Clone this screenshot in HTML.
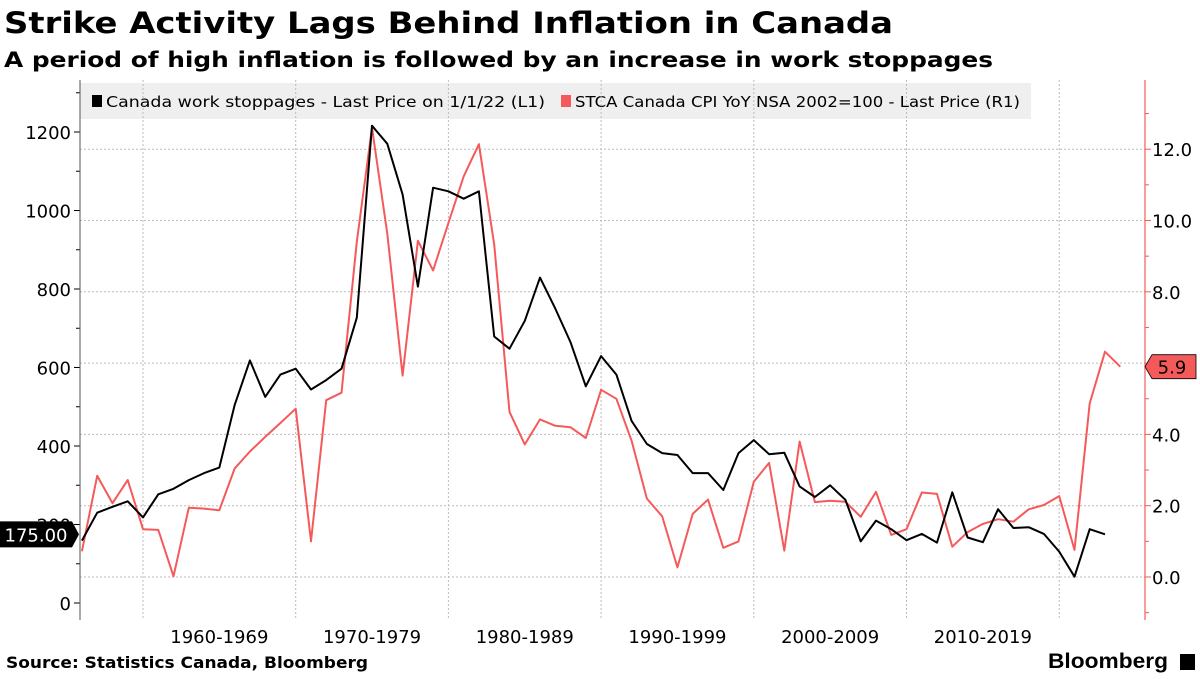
<!DOCTYPE html>
<html><head><meta charset="utf-8"><style>
body{margin:0;background:#fff;width:1200px;height:675px;overflow:hidden;font-family:"DejaVu Sans",sans-serif}
</style></head><body>
<svg id="chart" width="1200" height="675" xmlns="http://www.w3.org/2000/svg" font-family="DejaVu Sans, sans-serif">
<text x="4" y="33" font-size="29" font-weight="bold" fill="#000" textLength="889" lengthAdjust="spacingAndGlyphs">Strike Activity Lags Behind Inflation in Canada</text>
<text x="4" y="67" font-size="21" font-weight="bold" fill="#000" textLength="989" lengthAdjust="spacingAndGlyphs">A period of high inflation is followed by an increase in work stoppages</text>
<rect x="80" y="83" width="951" height="36" fill="#efefef"/>
<rect x="92" y="95" width="10" height="12" fill="#000"/>
<text x="106" y="107" font-size="15" fill="#000" textLength="439" lengthAdjust="spacingAndGlyphs">Canada work stoppages - Last Price on 1/1/22 (L1)</text>
<rect x="561" y="95" width="10" height="12" fill="#f55a5a"/>
<text x="575" y="107" font-size="15" fill="#000" textLength="445" lengthAdjust="spacingAndGlyphs">STCA Canada CPI YoY NSA 2002=100 - Last Price (R1)</text>
<g id="grid"></g><g id="axes"></g><g id="series"></g>
<text x="6" y="668" font-size="16" font-weight="bold" fill="#000" textLength="362" lengthAdjust="spacingAndGlyphs">Source: Statistics Canada, Bloomberg</text>
<text x="1048" y="668" font-size="21" font-weight="bold" fill="#000" font-family="Liberation Sans, sans-serif" textLength="120" lengthAdjust="spacingAndGlyphs">Bloomberg</text>
<rect x="1180" y="654" width="15" height="16" fill="#000"/>
</svg>
<script>
const stoppages = [159,230,245,259,218,277,291,313,331,345,504,618,525,582,597,544,568,597,727,1216,1170,1041,806,1058,1049,1030,1049,679,648,719,829,750,664,552,629,582,464,405,382,377,331,331,288,382,415,379,383,297,270,300,263,157,210,188,160,176,154,282,167,155,239,191,193,176,131,67,188,175];
const cpi = [0.72,2.84,2.07,2.72,1.34,1.32,0.02,1.94,1.92,1.87,3.04,3.52,3.93,4.32,4.72,1.0,4.96,5.17,9.4,12.6,9.63,5.65,9.43,8.6,9.93,11.24,12.14,9.33,4.63,3.72,4.42,4.24,4.2,3.9,5.25,5.0,3.82,2.2,1.7,0.27,1.77,2.17,0.82,1.0,2.67,3.2,0.74,3.8,2.1,2.14,2.11,1.69,2.39,1.18,1.34,2.37,2.33,0.85,1.26,1.49,1.62,1.55,1.9,2.02,2.27,0.76,4.87,6.32,5.9];
const startYear = 1956;
const leftTicks = [0,200,400,600,800,1000,1200];
const rightTicks = [0,2,4,6,8,10,12];
const decadeLabels = ["1960-1969","1970-1979","1980-1989","1990-1999","2000-2009","2010-2019"];
const decadeStarts = [1960,1970,1980,1990,2000,2010,2020];

const NS="http://www.w3.org/2000/svg";
const X0=80, X1=1145, Ytop=80, Ybot=620;
const xs = yr => 143 + (yr-1960)*15.27;
const yL = v => 603 - v*0.3925;
const yR = v => 577 - v*35.65;
function mk(tag, attrs, parent){const e=document.createElementNS(NS,tag);for(const k in attrs)e.setAttribute(k,attrs[k]);document.getElementById(parent).appendChild(e);return e;}

rightTicks.forEach(v=>{
  const l=mk('line',{x1:X0,x2:X1,y1:yR(v),y2:yR(v),stroke:'#bbb','stroke-dasharray':'2,2','stroke-width':1},'grid');
  
  
  const t=mk('text',{x:1152,y:yR(v)+7,'font-size':18,fill:'#000'},'axes');t.textContent=v.toFixed(1);
  
  
});
for(let v=-1;v<=13;v++){const tk=mk('line',{x1:X1,x2:X1+(v%2===0?6:4),y1:yR(v),y2:yR(v),stroke:'#f55a5a','stroke-width':1},'axes');
  
  }
decadeStarts.forEach(yr=>{
  const l=mk('line',{x1:xs(yr),x2:xs(yr),y1:Ytop,y2:Ybot,stroke:'#bbb','stroke-dasharray':'2,2','stroke-width':1},'grid');
  
  
});
decadeLabels.forEach((lab,i)=>{
  const t=mk('text',{x:(xs(decadeStarts[i])+xs(decadeStarts[i+1]))/2,y:643,'font-size':18,'text-anchor':'middle',fill:'#000'},'axes');t.textContent=lab;
  
  
});
leftTicks.forEach(v=>{
  const t=mk('text',{x:71,y:yL(v)+7,'font-size':18,'text-anchor':'end',fill:'#000'},'axes');t.textContent=v;
  
  
});
for(let v=0;v<=1300;v+=100){const tk=mk('line',{x1:X0,x2:X0-(v%200===0?6:4),y1:yL(v),y2:yL(v),stroke:'#000','stroke-width':1},'axes');
  
  }
const la=mk('line',{x1:X0,x2:X0,y1:Ytop,y2:Ybot,stroke:'#555','stroke-width':1},'axes');


const ra=mk('line',{x1:X1,x2:X1,y1:Ytop,y2:Ybot,stroke:'#f55a5a','stroke-width':1.2},'axes');



const cp=cpi.map((v,i)=>xs(startYear+i).toFixed(1)+','+yR(v).toFixed(1)).join(' ');
const redLine=mk('polyline',{points:cp,fill:'none',stroke:'#f55a5a','stroke-width':2,'stroke-linejoin':'round'},'series');


const sp=stoppages.map((v,i)=>xs(startYear+i).toFixed(1)+','+yL(v).toFixed(1)).join(' ');
const blackLine=mk('polyline',{points:sp,fill:'none',stroke:'#000','stroke-width':2,'stroke-linejoin':'round'},'series');



const lastS=stoppages[stoppages.length-1], ly=yL(lastS);
const lt=mk('polygon',{points:`0,${ly-13} 72,${ly-13} 79,${ly} 72,${ly+13} 0,${ly+13}`,fill:'#000'},'series');


const ltt=mk('text',{x:36,y:ly+7,'font-size':18,'text-anchor':'middle',fill:'#fff'},'series');ltt.textContent=lastS.toFixed(2);


const lastC=cpi[cpi.length-1], ry=yR(lastC);
const rt=mk('polygon',{points:`1145,${ry} 1152,${ry-12} 1196,${ry-12} 1196,${ry+12} 1152,${ry+12}`,fill:'#f55a5a',stroke:'#000','stroke-width':0.8},'series');


const rtt=mk('text',{x:1172,y:ry+7,'font-size':18,'text-anchor':'middle',fill:'#000'},'series');rtt.textContent=lastC.toFixed(1);


</script>
</body></html>
